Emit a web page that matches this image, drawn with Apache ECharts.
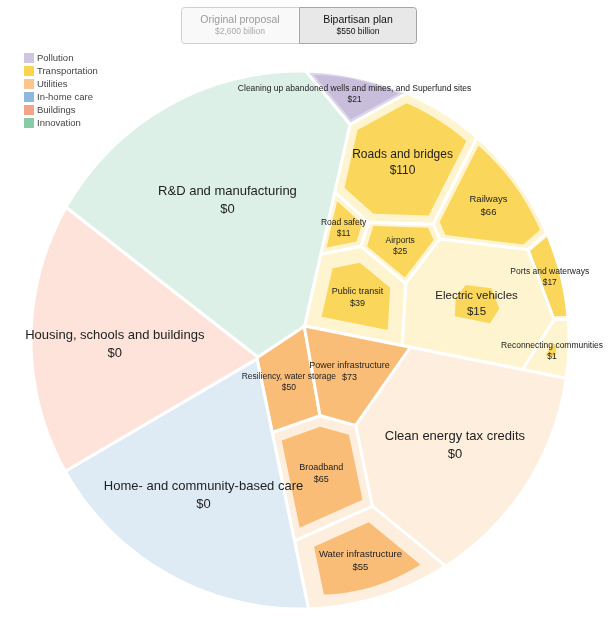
<!DOCTYPE html>
<html><head><meta charset="utf-8">
<script src="https://cdn.jsdelivr.net/npm/echarts@6/dist/echarts.min.js"></script>
<style>html,body{margin:0;padding:0;background:#fff}#main{width:612px;height:618px}</style>
</head><body><div id="main"></div>
<script>
// ---------------- DATA ----------------
const categories = ['Pollution','Transportation','Utilities','In-home care','Buildings','Innovation'];
const itemNames = [
  'Cleaning up abandoned wells and mines, and Superfund sites',
  'Roads and bridges','Railways','Ports and waterways','Reconnecting communities',
  'Electric vehicles','Public transit','Airports','Road safety',
  'Clean energy tax credits','Water infrastructure','Broadband','Resiliency, water storage','Power infrastructure',
  'Home- and community-based care',
  'Housing, schools and buildings',
  'R&D and manufacturing'
];
const itemCategory = [
  'Pollution',
  'Transportation','Transportation','Transportation','Transportation',
  'Transportation','Transportation','Transportation','Transportation',
  'Utilities','Utilities','Utilities','Utilities','Utilities',
  'In-home care','Buildings','Innovation'
];
// billions of dollars: original proposal (cell size) and bipartisan plan (filled part)
const originalValues   = [30, 150, 85, 20, 20, 174, 85, 35, 20, 350, 111, 100, 50, 73, 400, 370, 580];
const bipartisanValues = [21, 110, 66, 17,  1,  15, 39, 25, 11,   0,  55,  65, 50, 73,   0,   0,   0];
const buttonLabels = ['Original proposal','Bipartisan plan'];
const buttonTotals = ['$2,600 billion','$550 billion'];

// ---------------- STYLE / LAYOUT SETTINGS ----------------
const legendColors = ['#cfc7e1','#fbd34f','#fbc58d','#8eb9dd','#f6a38b','#89cba7'];
const lightColors  = ['#dcd6ea','#fef4d0','#fdeede','#deebf5','#fde3da','#dcf0e7'];
const fillColors   = ['#c8bedb','#fad75a','#f9bd78','#8eb9dd','#f6a38b','#89cba7'];
const labelSize = {
  'Cleaning up abandoned wells and mines, and Superfund sites':8.5,
  'Roads and bridges':12,'Railways':9.5,'Ports and waterways':8.5,'Reconnecting communities':8.5,
  'Electric vehicles':11.5,'Public transit':9,'Airports':8.5,'Road safety':8.5,
  'Clean energy tax credits':13,'Water infrastructure':9.5,'Broadband':9,'Resiliency, water storage':8.5,'Power infrastructure':9,
  'Home- and community-based care':13,'Housing, schools and buildings':13,'R&D and manufacturing':13
};
const rootStartDeg = 10;
// initial site hints for the iterative layout: [angle clockwise from up (deg), distance as fraction of parent radius]
const seedHint = {
  'Roads and bridges':[332,0.69],'Railways':[52,0.5],'Ports and waterways':[116,0.84],'Reconnecting communities':[144,0.95],
  'Electric vehicles':[167,0.4],'Public transit':[246,0.85],'Airports':[267,0.46],'Road safety':[282,0.93],
  'Clean energy tax credits':[84,0.43],'Water infrastructure':[197,0.76],'Broadband':[267,0.59],
  'Resiliency, water storage':[301,0.94],'Power infrastructure':[330,0.72]
};
const FONT = '"Liberation Sans", Arial, sans-serif';

// ---------------- VORONOI TREEMAP (power diagram) ----------------
function polyArea(p){let a=0;for(let i=0,n=p.length;i<n;i++){const q=p[i],r=p[(i+1)%n];a+=q[0]*r[1]-r[0]*q[1];}return a/2;}
function polyCentroid(p){let a=0,cx=0,cy=0;for(let i=0,n=p.length;i<n;i++){const q=p[i],r=p[(i+1)%n];const f=q[0]*r[1]-r[0]*q[1];a+=f;cx+=(q[0]+r[0])*f;cy+=(q[1]+r[1])*f;}a/=2;if(Math.abs(a)<1e-14){let sx=0,sy=0;p.forEach(q=>{sx+=q[0];sy+=q[1];});return [sx/p.length,sy/p.length];}return [cx/(6*a),cy/(6*a)];}
function inside(poly,p){let c=false;for(let i=0,j=poly.length-1;i<poly.length;j=i++){const a=poly[i],b=poly[j];if(((a[1]>p[1])!==(b[1]>p[1]))&&(p[0]<(b[0]-a[0])*(p[1]-a[1])/(b[1]-a[1])+a[0]))c=!c;}return c;}
function clipHalf(poly,ax,ay,b){
  const out=[];const n=poly.length;
  for(let i=0;i<n;i++){
    const P=poly[i],Q=poly[(i+1)%n];
    const fp=ax*P[0]+ay*P[1]-b, fq=ax*Q[0]+ay*Q[1]-b;
    if(fp<=0) out.push(P);
    if((fp<0&&fq>0)||(fp>0&&fq<0)){const t=fp/(fp-fq);out.push([P[0]+t*(Q[0]-P[0]),P[1]+t*(Q[1]-P[1])]);}
  }
  return out;
}
function powerCells(sites,w,clip){
  return sites.map((si,i)=>{
    let poly=clip;
    for(let j=0;j<sites.length;j++){
      if(j===i) continue;
      const sj=sites[j];
      const ax=2*(sj[0]-si[0]), ay=2*(sj[1]-si[1]);
      const b=w[i]-w[j]+(sj[0]*sj[0]+sj[1]*sj[1])-(si[0]*si[0]+si[1]*si[1]);
      poly=clipHalf(poly,ax,ay,b);
      if(poly.length<3) return [];
    }
    return poly;
  });
}
function fixOver(sites,w){
  for(let pass=0;pass<30;pass++){
    let fixed=0;
    for(let i=0;i<sites.length;i++)for(let j=i+1;j<sites.length;j++){
      const dx=sites[i][0]-sites[j][0],dy=sites[i][1]-sites[j][1],d2=dx*dx+dy*dy;
      const h=w[i]>w[j]?i:j,l=h===i?j:i;
      if(d2<w[h]-w[l]){w[h]=Math.max(w[l]+d2*0.999,1e-12);fixed++;}
    }
    if(!fixed) break;
  }
}
function placeSeeds(poly,names,vals,startDeg,rf){
  const c=polyCentroid(poly);const R=Math.sqrt(Math.abs(polyArea(poly))/Math.PI);
  const sum=vals.reduce((s,v)=>s+v,0);let acc=0;
  return vals.map((v,k)=>{
    let ang=(startDeg+(acc+v/2)/sum*360),rr=rf;acc+=v;
    if(seedHint[names[k]]){ang=seedHint[names[k]][0];rr=seedHint[names[k]][1];}
    const t=ang*Math.PI/180;
    let p=[c[0]+R*rr*Math.sin(t),c[1]+R*rr*Math.cos(t)];
    let m=0;while(!inside(poly,p)&&m<30){p=[c[0]+(p[0]-c[0])*0.9,c[1]+(p[1]-c[1])*0.9];m++;}
    return p;
  });
}
function voronoiMap(clip,targets,seeds){
  const n=targets.length;
  if(n===1) return [clip.slice()];
  const A=Math.abs(polyArea(clip));
  const sum=targets.reduce((s,v)=>s+v,0);
  const tA=targets.map(v=>v/sum*A);
  const sites=seeds.map(s=>s.slice());
  const w=tA.map(a=>a*0.02);
  let cells;
  const ITER=600;
  for(let it=0;it<ITER;it++){
    cells=powerCells(sites,w,clip);
    if(it<ITER-100){
      for(let i=0;i<n;i++) if(cells[i].length>=3&&Math.abs(polyArea(cells[i]))>1e-12) sites[i]=polyCentroid(cells[i]);
      fixOver(sites,w);
      cells=powerCells(sites,w,clip);
    }
    for(let i=0;i<n;i++){
      const a=cells[i].length>=3?Math.abs(polyArea(cells[i])):0;
      let r=a>1e-12?tA[i]/a:1.5;
      r=Math.min(1.5,Math.max(0.67,r));
      w[i]=Math.max(w[i]*r,1e-12);
    }
    fixOver(sites,w);
  }
  return powerCells(sites,w,clip);
}

// unit circle clip polygon
const circle=[];
for(let i=0;i<160;i++){const t=i/160*Math.PI*2;circle.push([Math.sin(t),Math.cos(t)]);}

// level 1: categories
const catTotals=categories.map(c=>itemNames.reduce((s,_,i)=>s+(itemCategory[i]===c?originalValues[i]:0),0));
const catCells=voronoiMap(circle,catTotals,placeSeeds(circle,categories,catTotals,rootStartDeg,0.55));

// level 2: items
const leafCell=new Array(itemNames.length);
categories.forEach((c,ci)=>{
  const idx=itemNames.map((_,i)=>i).filter(i=>itemCategory[i]===c);
  const vals=idx.map(i=>originalValues[i]);
  const seeds=placeSeeds(catCells[ci],idx.map(i=>itemNames[i]),vals,0,0.45);
  const cells=voronoiMap(catCells[ci],vals,seeds);
  idx.forEach((i,k)=>{leafCell[i]=cells[k];});
});
const leafInner=leafCell.map((cell,i)=>{
  if(!cell||cell.length<3||bipartisanValues[i]<=0) return null;
  const f=Math.min(1,Math.sqrt(bipartisanValues[i]/originalValues[i]));
  const c=polyCentroid(cell);
  return cell.map(p=>[c[0]+(p[0]-c[0])*f,c[1]+(p[1]-c[1])*f]);
});

// ---------------- CHART ----------------
const chart=echarts.init(document.getElementById('main'),null,{renderer:'canvas'});
const series=categories.map((c,ci)=>({
  type:'custom',name:c,coordinateSystem:'cartesian2d',clip:false,
  itemStyle:{color:legendColors[ci]},
  encode:{x:0,y:1},
  data:itemNames.map((_,i)=>i).filter(i=>itemCategory[i]===c&&leafCell[i]&&leafCell[i].length>=3)
    .map(i=>{const cc=polyCentroid(leafCell[i]);return [cc[0],cc[1],i];}),
  renderItem:function(params,api){
    const i=api.value(2);
    const cell=leafCell[i].map(p=>api.coord(p));
    const ch=[{type:'polygon',shape:{points:cell},style:{fill:lightColors[ci]}}];
    if(leafInner[i]) ch.push({type:'polygon',shape:{points:leafInner[i].map(p=>api.coord(p))},style:{fill:fillColors[ci]}});
    ch.push({type:'polygon',shape:{points:cell},style:{fill:'none',stroke:'#ffffff',lineWidth:3,lineJoin:'round'}});
    const cp=api.coord([api.value(0),api.value(1)]);
    const fs=labelSize[itemNames[i]]||9;
    ch.push({type:'text',x:cp[0],y:cp[1],z2:100,style:{
      text:itemNames[i]+'\n$'+bipartisanValues[i],fontSize:fs,lineHeight:Math.round(fs*1.35),
      fontFamily:FONT,fill:'#222',align:'center',verticalAlign:'middle'}});
    return {type:'group',children:ch};
  }
}));

chart.setOption({
  animation:false,
  grid:{left:31,top:71,width:538,height:538,outerBoundsMode:'none'},
  xAxis:{type:'value',min:-1,max:1,show:false},
  yAxis:{type:'value',min:-1,max:1,show:false},
  legend:{show:true,orient:'vertical',left:24,top:53,itemWidth:10,itemHeight:10,itemGap:3,icon:'rect',
    selectedMode:false,padding:0,data:categories,
    textStyle:{fontSize:9.5,color:'#444',fontFamily:FONT,padding:[0,0,0,-2]}},
  graphic:{elements:[
    {type:'rect',x:181.5,y:7.5,shape:{width:118,height:36,r:[3,0,0,3]},style:{fill:'#f9f9f9',stroke:'#d0d0d0',lineWidth:1}},
    {type:'rect',x:299.5,y:7.5,shape:{width:117,height:36,r:[0,3,3,0]},style:{fill:'#e8e8e8',stroke:'#a6a6a6',lineWidth:1}},
    {type:'text',x:240,y:20,style:{text:buttonLabels[0],align:'center',verticalAlign:'middle',fontSize:10.5,fontFamily:FONT,fill:'#9a9a9a'}},
    {type:'text',x:240,y:32,style:{text:buttonTotals[0],align:'center',verticalAlign:'middle',fontSize:8.5,fontFamily:FONT,fill:'#aaaaaa'}},
    {type:'text',x:358,y:20,style:{text:buttonLabels[1],align:'center',verticalAlign:'middle',fontSize:10.5,fontFamily:FONT,fill:'#111'}},
    {type:'text',x:358,y:32,style:{text:buttonTotals[1],align:'center',verticalAlign:'middle',fontSize:8.5,fontFamily:FONT,fill:'#111'}}
  ]},
  series:series
});
</script></body></html>
